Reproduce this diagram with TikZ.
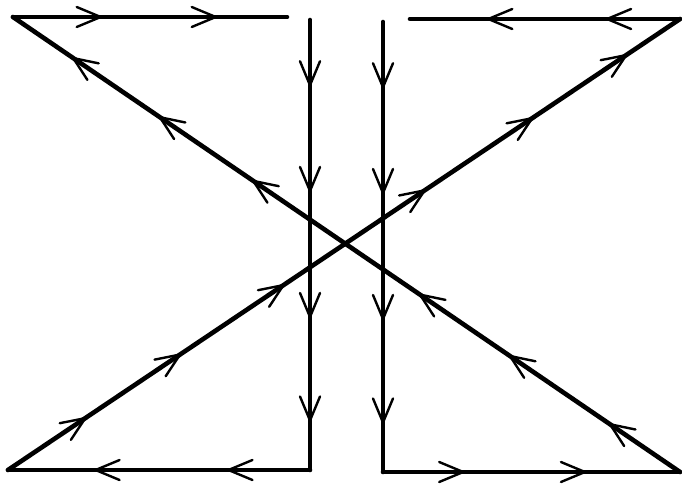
\documentclass[tikz,border=0pt]{standalone}
\usetikzlibrary{decorations.markings}
\tikzset{
  barbline/.style={line width=2.4pt, line cap=round, line join=miter},
  wire/.style={line width=4.6pt, line cap=round, line join=round},
}
\newcommand{\barbhead}{\draw[barbline] (-24pt,10pt) -- (0pt,0pt) -- (-24pt,-10pt);}
\begin{document}
\begin{tikzpicture}[x=1pt,y=-1pt]
\useasboundingbox (0,0) rectangle (682,489);
% corners
\coordinate (TL) at (13,17);
\coordinate (TLe) at (287,17);
\coordinate (LVt) at (310,20);
\coordinate (LVb) at (310,470);
\coordinate (BL) at (8,470);
\coordinate (TRs) at (410,19);
\coordinate (TR) at (680,19);
\coordinate (RVt) at (383,22);
\coordinate (RVb) at (383,472);
\coordinate (BR) at (680,472);
% left top horizontal (right)
\draw[wire, postaction={decorate}, decoration={markings,
  mark=at position 0.32 with {\barbhead},
  mark=at position 0.74 with {\barbhead}}] (TL) -- (TLe);
% diagonal from bottom-right to top-left
\draw[wire, postaction={decorate}, decoration={markings,
  mark=at position 0.105 with {\barbhead},
  mark=at position 0.255 with {\barbhead},
  mark=at position 0.39 with {\barbhead},
  mark=at position 0.64 with {\barbhead},
  mark=at position 0.78 with {\barbhead},
  mark=at position 0.91 with {\barbhead}}] (BR) -- (TL);
% diagonal from bottom-left to top-right
\draw[wire, postaction={decorate}, decoration={markings,
  mark=at position 0.115 with {\barbhead},
  mark=at position 0.256 with {\barbhead},
  mark=at position 0.41 with {\barbhead},
  mark=at position 0.62 with {\barbhead},
  mark=at position 0.78 with {\barbhead},
  mark=at position 0.92 with {\barbhead}}] (BL) -- (TR);
% left vertical down then bottom-left horizontal
\draw[wire, postaction={decorate}, decoration={markings,
  mark=at position 0.145 with {\barbhead},
  mark=at position 0.38 with {\barbhead},
  mark=at position 0.66 with {\barbhead},
  mark=at position 0.89 with {\barbhead}}] (LVt) -- (LVb);
\draw[wire, postaction={decorate}, decoration={markings,
  mark=at position 0.27 with {\barbhead},
  mark=at position 0.71 with {\barbhead}}] (LVb) -- (BL);
% right vertical down then bottom-right horizontal
\draw[wire, postaction={decorate}, decoration={markings,
  mark=at position 0.145 with {\barbhead},
  mark=at position 0.38 with {\barbhead},
  mark=at position 0.66 with {\barbhead},
  mark=at position 0.89 with {\barbhead}}] (RVt) -- (RVb);
\draw[wire, postaction={decorate}, decoration={markings,
  mark=at position 0.27 with {\barbhead},
  mark=at position 0.68 with {\barbhead}}] (RVb) -- (BR);
% top-right horizontal (left)
\draw[wire, postaction={decorate}, decoration={markings,
  mark=at position 0.27 with {\barbhead},
  mark=at position 0.71 with {\barbhead}}] (TR) -- (TRs);
\end{tikzpicture}
\end{document}
